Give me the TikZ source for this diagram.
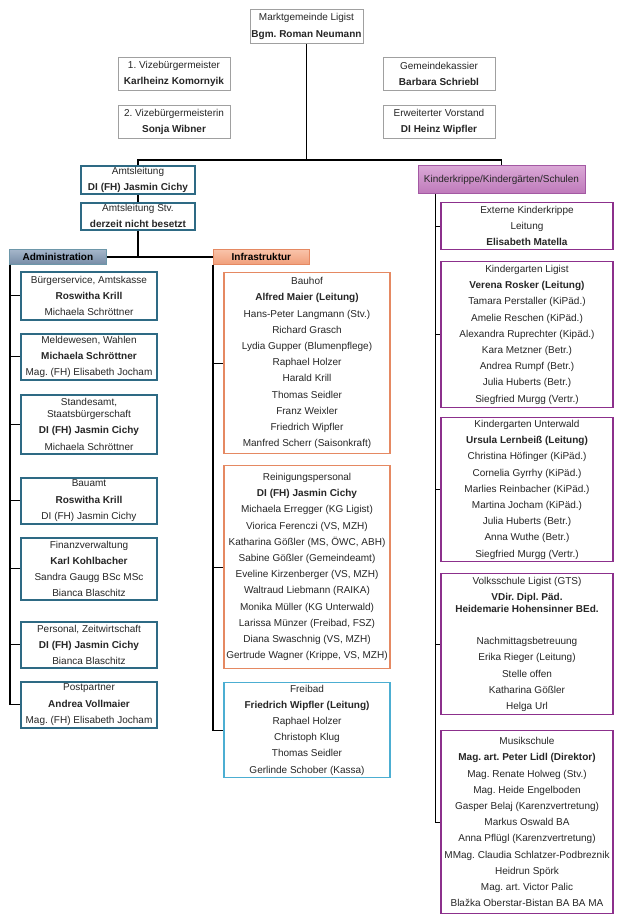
\documentclass[tikz,border=0pt]{standalone}
\usepackage{fontspec}
\setmainfont{Liberation Sans}
\frenchspacing
\definecolor{gremgray}{RGB}{160,160,160}
\definecolor{admblue}{RGB}{46,106,132}
\definecolor{admtop}{RGB}{165,182,202}
\definecolor{admbot}{RGB}{118,140,166}
\definecolor{infora}{RGB}{229,137,98}
\definecolor{inftop}{RGB}{249,196,170}
\definecolor{infbot}{RGB}{240,158,122}
\definecolor{bathblue}{RGB}{76,174,210}
\definecolor{kidpurple}{RGB}{140,48,140}
\definecolor{kidtop}{RGB}{218,168,214}
\definecolor{kidbot}{RGB}{190,122,186}

\begin{document}
\begin{tikzpicture}[
    x=1pt, y=-1pt,
    every node/.style={
        font=\fontsize{10}{16.2}\selectfont, align=center, text=black!85,
        inner xsep=0pt, inner ysep=1pt, fill=white
    },
    gremium/.style={draw=gremgray, line width=0.8pt, minimum width=112pt, anchor=north, minimum height=33pt},
    leitung/.style={draw=admblue, line width=1.6pt, minimum width=114pt, anchor=north},
    admbox/.style={draw=admblue, line width=1.5pt, minimum width=136pt, anchor=north},
    infbox/.style={line width=1.2pt, minimum width=166pt, anchor=north},
    kidbox/.style={draw=kidpurple, line width=1.3pt, minimum width=172pt, anchor=north},
    header/.style={
        font=\fontsize{10}{12}\selectfont\bfseries, text=black,
        minimum height=15pt, inner ysep=0pt, anchor=north west, line width=0.8pt
    },
    conn/.style={draw=black, line width=1.2pt}
]
\useasboundingbox (0,0) rectangle (620,922);

% Gemeindespitze
\node[gremium, minimum width=113pt, minimum height=34pt] (gem) at (306.5,9)
    {Marktgemeinde Ligist\\\textbf{Bgm. Roman Neumann}};
\node[gremium] (vize1) at (174,57) {1. Vizebürgermeister\\\textbf{Karlheinz Komornyik}};
\node[gremium] (vize2) at (174,105) {2. Vizebürgermeisterin\\\textbf{Sonja Wibner}};
\node[gremium] (kassier) at (439,57) {Gemeindekassier\\\textbf{Barbara Schriebl}};
\node[gremium] (vorstand) at (439,105) {Erweiterter Vorstand\\\textbf{DI Heinz Wipfler}};

\node[leitung, minimum height=28pt] (amt) at (138,165) {Amtsleitung\\\textbf{DI (FH) Jasmin Cichy}};
\node[leitung, minimum height=27pt] (stv) at (138,202) {Amtsleitung Stv.\\\textbf{derzeit nicht besetzt}};
\node[draw=kidpurple!80, line width=1pt, top color=kidtop, bottom color=kidbot,
    minimum width=167pt, minimum height=28pt, anchor=north] (kiga) at (501.5,165)
    {Kinderkrippe/Kindergärten/Schulen};

\coordinate (bus) at (306.5,160);
\draw[conn] (gem.south) -- (bus);
\draw[conn] (amt.north) |- (bus) -| (kiga.north);
\draw[conn] (amt.south) -- (stv.north);

% Bereiche
\node[header, draw=admblue!70, top color=admtop, bottom color=admbot, minimum width=97pt]
    (admhead) at (9,249) {Administration};
\node[header, draw=infora, top color=inftop, bottom color=infbot, minimum width=96pt]
    (infhead) at (213,249) {Infrastruktur};
\draw[conn] (stv.south) |- (admhead.east);
\draw[conn] (stv.south |- infhead.west) -- (infhead.west);

\foreach \i/\y/\hgt/\txt in {%
    1/271/48/{Bürgerservice, Amtskasse\\\textbf{Roswitha Krill}\\Michaela Schröttner},
    2/333/46/{Meldewesen, Wahlen\\\textbf{Michaela Schröttner}\\Mag. (FH) Elisabeth Jocham},
    3/394/59/{Standesamt,\\[-4pt]Staatsbürgerschaft\\\textbf{DI (FH) Jasmin Cichy}\\Michaela Schröttner},
    4/477/46/{Bauamt\\\textbf{Roswitha Krill}\\DI (FH) Jasmin Cichy},
    5/537/62/{Finanzverwaltung\\\textbf{Karl Kohlbacher}\\Sandra Gaugg BSc MSc\\Bianca Blaschitz},
    6/621/46/{Personal, Zeitwirtschaft\\\textbf{DI (FH) Jasmin Cichy}\\Bianca Blaschitz},
    7/681/46/{Postpartner\\\textbf{Andrea Vollmaier}\\Mag. (FH) Elisabeth Jocham}%
} {
    \node[admbox, minimum height=\hgt] (adm\i) at (89,\y) {\txt};
    \draw[conn] ([xshift=1pt]admhead.south west) |- (adm\i.west);
}

\foreach \i/\y/\hgt/\clr/\txt in {%
    1/272/181/infora/{Bauhof\\\textbf{Alfred Maier (Leitung)}\\Hans-Peter Langmann (Stv.)\\Richard Grasch\\Lydia Gupper (Blumenpflege)\\Raphael Holzer\\Harald Krill\\Thomas Seidler\\Franz Weixler\\Friedrich Wipfler\\Manfred Scherr (Saisonkraft)},
    2/465/203/infora/{Reinigungspersonal\\\textbf{DI (FH) Jasmin Cichy}\\Michaela Erregger (KG Ligist)\\Viorica Ferenczi (VS, MZH)\\Katharina Gößler (MS, ÖWC, ABH)\\Sabine Gößler (Gemeindeamt)\\Eveline Kirzenberger (VS, MZH)\\Waltraud Liebmann (RAIKA)\\Monika Müller (KG Unterwald)\\Larissa Münzer (Freibad, FSZ)\\Diana Swaschnig (VS, MZH)\\Gertrude Wagner (Krippe, VS, MZH)},
    3/682/95/bathblue/{Freibad\\\textbf{Friedrich Wipfler (Leitung)}\\Raphael Holzer\\Christoph Klug\\Thomas Seidler\\Gerlinde Schober (Kassa)}%
} {
    \node[infbox, draw=\clr, minimum height=\hgt] (inf\i) at (307,\y) {\txt};
    \draw[conn] (infhead.south west) |- (inf\i.west);
}

\foreach \i/\y/\hgt/\txt in {%
    1/202/47/{Externe Kinderkrippe\\Leitung\\\textbf{Elisabeth Matella}},
    2/261/146/{Kindergarten Ligist\\\textbf{Verena Rosker (Leitung)}\\Tamara Perstaller (KiPäd.)\\Amelie Reschen (KiPäd.)\\Alexandra Ruprechter (Kipäd.)\\Kara Metzner (Betr.)\\Andrea Rumpf (Betr.)\\Julia Huberts (Betr.)\\Siegfried Murgg (Vertr.)},
    3/417/144/{Kindergarten Unterwald\\\textbf{Ursula Lernbeiß (Leitung)}\\Christina Höfinger (KiPäd.)\\Cornelia Gyrrhy (KiPäd.)\\Marlies Reinbacher (KiPäd.)\\Martina Jocham (KiPäd.)\\Julia Huberts (Betr.)\\Anna Wuthe (Betr.)\\Siegfried Murgg (Vertr.)},
    4/573/141/{Volksschule Ligist (GTS)\\\textbf{VDir. Dipl. Päd.}\\[-4pt]\textbf{Heidemarie Hohensinner BEd.}\\[16pt]Nachmittagsbetreuung\\Erika Rieger (Leitung)\\Stelle offen\\Katharina Gößler\\Helga Url},
    5/730/183/{Musikschule\\\textbf{Mag. art. Peter Lidl (Direktor)}\\Mag. Renate Holweg (Stv.)\\Mag. Heide Engelboden\\Gasper Belaj (Karenzvertretung)\\Markus Oswald BA\\Anna Pflügl (Karenzvertretung)\\MMag. Claudia Schlatzer-Podbreznik\\Heidrun Spörk\\Mag. art. Victor Palic\\Blažka Oberstar-Bistan BA BA MA}%
} {
    \node[kidbox, minimum height=\hgt] (kid\i) at (527,\y) {\txt};
    \draw[conn] ([xshift=18pt]kiga.south west) |- (kid\i.west);
}
\end{tikzpicture}
\end{document}
